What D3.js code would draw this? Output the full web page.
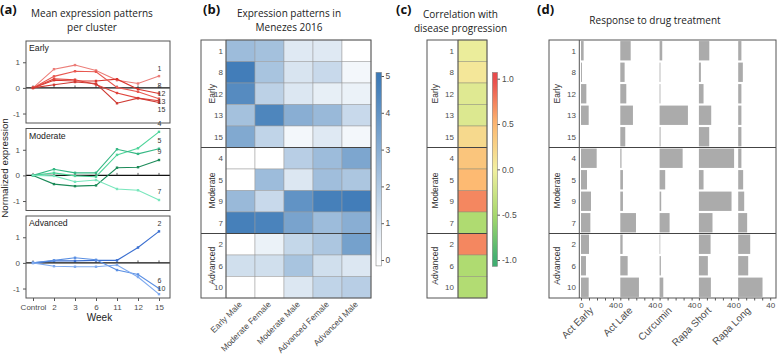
<!DOCTYPE html>
<html><head><meta charset="utf-8">
<script src="https://cdn.jsdelivr.net/npm/d3@7"></script>
<style>body{margin:0;background:#fff} svg{display:block}</style>
</head><body><svg id="chart" width="777" height="355"></svg>
<script>
// ---------------- DATA ----------------
const weeks = ["Control", "2", "3", "6", "11", "12", "15"];
const groups = ["Early", "Moderate", "Advanced"];
const clustersEarly = ["1", "8", "12", "13", "15"];
const clustersModerate = ["4", "5", "9", "7"];
const clustersAdvanced = ["2", "6", "10"];
const profileTicks = [-1, 0, 1];

// mean normalized expression per cluster, per week (panel a)
const profilesEarly = {
  "1":  [0, 0.73, 0.89, 0.68, 0.30, 0.17, 0.46],
  "8":  [0, 0.30, 0.27, 0.27, 0.34, -0.05, -0.22],
  "12": [0, 0.45, 0.65, 0.63, 0.02, -0.15, -0.42],
  "13": [0, 0.35, 0.32, 0.13, -0.20, -0.40, -0.50],
  "15": [0, 0.12, 0.23, 0.17, -0.60, -0.40, -0.57]
};
const profilesModerate = {
  "4": [0, 0.10, -0.02, -0.05, 0.80, 1.06, 1.70],
  "5": [0, 0.24, 0.10, 0.10, 1.02, 0.84, 1.04],
  "9": [0, -0.34, -0.42, -0.39, 0.30, 0.32, 0.60],
  "7": [0, -0.02, -0.25, -0.18, -0.53, -0.58, -0.96]
};
const profilesAdvanced = {
  "2":  [0, 0.08, 0.08, 0.10, 0.10, 0.60, 1.23],
  "6":  [0, 0.10, 0.20, 0.12, -0.28, -0.45, -1.00],
  "10": [0, -0.13, -0.15, -0.15, -0.08, -0.55, -1.22]
};

// panel b: Menezes 2016 expression (rows in cluster order)
const heatColumns = ["Early Male", "Moderate Female", "Moderate Male", "Advanced Female", "Advanced Male"];
const heatValues = [
  [2.5, 2.3, 0.8, 0.8, 0.0],
  [4.8, 2.2, 1.0, 1.4, 0.3],
  [4.3, 1.7, 0.9, 0.6, 0.5],
  [2.3, 4.5, 3.0, 2.6, 1.4],
  [3.2, 1.6, 0.3, 0.8, 0.3],
  [0.0, 0.0, 1.8, 2.5, 3.3],
  [0.0, 2.5, 0.9, 2.4, 2.1],
  [2.6, 1.4, 4.0, 4.7, 4.8],
  [4.7, 4.6, 3.4, 2.5, 3.0],
  [0.0, 0.5, 1.5, 2.1, 3.5],
  [1.2, 1.2, 2.2, 1.2, 0.9],
  [0.0, 0.0, 0.9, 1.6, 1.8]
];
const heatTicks = [0, 1, 2, 3, 4, 5];

// panel c: correlation with disease progression
const corrValues = [-0.05, 0.07, -0.13, -0.15, 0.2, 0.38, 0.48, 0.72, -0.45, 0.72, -0.45, -0.43];
const corrTicks = [-1, -0.5, 0, 0.5, 1];

// panel d: response to drug treatment
const drugs = ["Act Early", "Act Late", "Curcumin", "Rapa Short", "Rapa Long"];
const drugValues = [
  [3.3, 13.0, 3.3, 13.0, 4.0],
  [1.2, 5.4, 1.0, 2.5, 5.8],
  [6.7, 7.5, 1.0, 5.8, 4.0],
  [9.6, 15.8, 35.4, 15.4, 4.0],
  [0.0, 6.2, 1.2, 12.9, 4.0],
  [19.6, 1.5, 28.8, 44.0, 4.0],
  [7.5, 3.3, 7.0, 5.8, 6.2],
  [12.5, 3.3, 2.0, 40.8, 7.5],
  [11.7, 19.6, 12.5, 17.0, 11.2],
  [10.0, 2.9, 0.8, 14.6, 15.0],
  [6.2, 9.2, 1.6, 11.2, 12.5],
  [9.6, 23.3, 4.6, 15.0, 30.4]
];
const drugTicks = [0, 10, 20, 30, 40];
const drugTickLabels = [0, 40];

// ---------------- DRAWING ----------------
const svg = d3.select("#chart");
const FONT = '"Liberation Sans", Arial, sans-serif';
const TFONT = '"Open Sans", "Noto Sans", sans-serif';
const TXT = "#4d4d4d";
const FRAME = "#555";

const clusterLists = { Early: clustersEarly, Moderate: clustersModerate, Advanced: clustersAdvanced };
const profileLists = { Early: profilesEarly, Moderate: profilesModerate, Advanced: profilesAdvanced };
const clusterColors = {
  "1": "#ec7d78", "8": "#d9362e", "12": "#e8574f", "13": "#e0443c", "15": "#cf3a33",
  "4": "#4fd49a", "5": "#35b884", "9": "#1b8a58", "7": "#78e6bc",
  "2": "#3a6fd0", "6": "#5a8fe3", "10": "#7eaaf0"
};

function panelLetter(x, t) {
  svg.append("text").attr("x", x).attr("y", 14).text(t)
    .attr("font-family", TFONT).attr("font-weight", "bold").attr("font-size", 13).attr("fill", "#111");
}
function panelTitle(cx, lines, y0) {
  lines.forEach((l, i) => svg.append("text").attr("x", cx).attr("y", y0 + i * 13.8).text(l)
    .attr("text-anchor", "middle").attr("font-family", TFONT).attr("font-size", 10).attr("fill", "#222"));
}
function styleAxis(s, fs) {
  s.select(".domain").remove();
  s.selectAll("line").attr("stroke", FRAME);
  s.selectAll("text").attr("font-family", FONT).attr("font-size", fs || 8).attr("fill", TXT);
}

// ---- Panel (a) ----
panelLetter(0, "(a)");
panelTitle(92, ["Mean expression patterns", "per cluster"], 17);
const ax = d3.scalePoint().domain(weeks).range([33, 159]);
const aLeft = 26, aRight = 170, aH = 82, aStep = 87.5;
groups.forEach((g, gi) => {
  const top = 41 + gi * aStep, bot = top + aH;
  const y = d3.scaleLinear().domain([-1.37, 1.83]).range([bot, top]);
  const G = svg.append("g");
  G.append("line").attr("x1", aLeft).attr("x2", aRight).attr("y1", y(0)).attr("y2", y(0))
    .attr("stroke", "#111").attr("stroke-width", 1.3);
  G.selectAll(".zt").data(weeks).join("line")
    .attr("x1", d => ax(d)).attr("x2", d => ax(d)).attr("y1", y(0) - 2.5).attr("y2", y(0))
    .attr("stroke", "#333").attr("stroke-width", 0.8);
  const profs = profileLists[g];
  const ids = clusterLists[g];
  const line = d3.line().x((d, i) => ax(weeks[i])).y(d => y(d));
  ids.forEach(id => {
    G.append("path").attr("d", line(profs[id])).attr("fill", "none")
      .attr("stroke", clusterColors[id]).attr("stroke-width", 1.1);
    G.selectAll(null).data(profs[id]).join("rect")
      .attr("x", (d, i) => ax(weeks[i]) - 1.2).attr("y", d => y(d) - 1.2)
      .attr("width", 2.4).attr("height", 2.4).attr("fill", clusterColors[id]);
  });
  // end labels with simple repel
  const labs = ids.map(id => ({ id, y: y(profs[id][weeks.length - 1]) - 8 })).sort((a, b) => a.y - b.y);
  for (let i = 1; i < labs.length; i++) labs[i].y = Math.max(labs[i].y, labs[i - 1].y + 8);
  labs.forEach(l => G.append("text").attr("x", ax(weeks[weeks.length - 1]) - 1.5).attr("y", l.y)
    .attr("dy", "0.35em").text(l.id).attr("font-family", FONT).attr("font-size", 7).attr("fill", "#333"));
  G.append("rect").attr("x", aLeft).attr("y", top).attr("width", aRight - aLeft).attr("height", aH)
    .attr("fill", "none").attr("stroke", FRAME).attr("stroke-width", 1);
  G.append("text").attr("x", aLeft + 3).attr("y", top + 10).text(g)
    .attr("font-family", FONT).attr("font-size", 8.7).attr("fill", "#222");
  G.append("g").attr("transform", `translate(${aLeft},0)`)
    .call(d3.axisLeft(y).tickValues(profileTicks).tickSize(3).tickPadding(3).tickFormat(d => String(d)))
    .call(s => styleAxis(s, 8));
  if (gi === groups.length - 1) {
    G.append("g").attr("transform", `translate(0,${bot})`)
      .call(d3.axisBottom(ax).tickSize(3).tickPadding(3)).call(s => styleAxis(s, 8));
  }
});
svg.append("text").attr("x", 99.5).attr("y", 321).text("Week").attr("text-anchor", "middle")
  .attr("font-family", FONT).attr("font-size", 10).attr("fill", "#222");
svg.append("text").attr("transform", "translate(8,168) rotate(-90)").text("Normalized expression")
  .attr("text-anchor", "middle").attr("font-family", FONT).attr("font-size", 9.8).attr("fill", "#222");

// shared row scale for b, c, d
const rowList = groups.flatMap(g => clusterLists[g].map(c => ({ g, c })));
const yRow = d3.scaleBand().domain(rowList.map(r => r.c)).range([40, 298]);
const rowH = yRow.bandwidth();
function rowStrip(left, innerX, right, numRight, groupX) {
  const G = svg.append("g");
  G.selectAll(null).data(rowList).join("text")
    .attr("x", numRight).attr("y", d => yRow(d.c) + rowH / 2).attr("dy", "0.35em")
    .attr("text-anchor", "end").text(d => d.c)
    .attr("font-family", FONT).attr("font-size", 8).attr("fill", TXT);
  groups.forEach(g => {
    const ids = clusterLists[g];
    const y0 = yRow(ids[0]), y1 = yRow(ids[ids.length - 1]) + rowH;
    G.append("text").attr("transform", `translate(${groupX},${(y0 + y1) / 2}) rotate(-90)`)
      .attr("dy", "0.35em").attr("text-anchor", "middle").text(g)
      .attr("font-family", FONT).attr("font-size", 8.5).attr("fill", "#333");
  });
  // separators
  groups.slice(1).forEach(g => {
    const yy = yRow(clusterLists[g][0]);
    G.append("line").attr("x1", left).attr("x2", right).attr("y1", yy).attr("y2", yy)
      .attr("stroke", "#444").attr("stroke-width", 1.2);
  });
  G.append("rect").attr("x", left).attr("y", 40).attr("width", right - left).attr("height", 258)
    .attr("fill", "none").attr("stroke", FRAME);
  G.append("line").attr("x1", innerX).attr("x2", innerX).attr("y1", 40).attr("y2", 298)
    .attr("stroke", FRAME);
}

// ---- Panel (b) ----
panelLetter(203, "(b)");
panelTitle(289, ["Expression patterns in", "Menezes 2016"], 17);
const xHeat = d3.scaleBand().domain(heatColumns).range([226, 371]);
const heatColor = d3.scaleLinear().domain([0, 5]).range(["#ffffff", "#3a78b6"]).clamp(true);
const cellsB = rowList.flatMap((r, ri) => heatColumns.map((c, ci) => ({ r: r.c, c, v: heatValues[ri][ci] })));
svg.append("g").selectAll("rect").data(cellsB).join("rect")
  .attr("x", d => xHeat(d.c)).attr("y", d => yRow(d.r))
  .attr("width", xHeat.bandwidth()).attr("height", rowH)
  .attr("fill", d => heatColor(d.v)).attr("stroke", "#9a9a9a").attr("stroke-width", 0.5);
rowStrip(201, 226, 371, 223, 212);
svg.append("g").selectAll("text").data(heatColumns).join("text")
  .attr("transform", d => `translate(${xHeat(d) + xHeat.bandwidth() / 2 + 2},305) rotate(-45)`)
  .attr("text-anchor", "end").text(d => d)
  .attr("font-family", FONT).attr("font-size", 8.5).attr("fill", TXT);
// colorbar b
const defs = svg.append("defs");
const cbB = d3.scaleLinear().domain([0, 5]).range([260, 76]);
const gradB = defs.append("linearGradient").attr("id", "gB").attr("x1", 0).attr("x2", 0).attr("y1", 1).attr("y2", 0);
d3.range(0, 1.01, 0.1).forEach(t => {
  const v = -0.16 + t * (5.1 + 0.16);
  gradB.append("stop").attr("offset", t).attr("stop-color", heatColor(v));
});
svg.append("rect").attr("x", 376).attr("y", cbB(5.1)).attr("width", 5.5).attr("height", cbB(-0.16) - cbB(5.1))
  .attr("fill", "url(#gB)").attr("stroke", "#888").attr("stroke-width", 0.6);
svg.append("g").attr("transform", "translate(381.5,0)")
  .call(d3.axisRight(cbB).tickValues(heatTicks).tickSize(2.5).tickPadding(1.5).tickFormat(d => String(d)))
  .call(s => styleAxis(s, 8.5));

// ---- Panel (c) ----
panelLetter(396, "(c)");
panelTitle(460.5, ["Correlation with", "disease progression"], 18);
const corrColor = d3.scaleLinear().domain([-1, -0.5, 0, 0.5, 1])
  .range(["#3fae72", "#a8d96c", "#f2efa0", "#fdb870", "#e8494b"]).clamp(true);
svg.append("g").selectAll("rect").data(rowList).join("rect")
  .attr("x", 458).attr("y", d => yRow(d.c)).attr("width", 29).attr("height", rowH)
  .attr("fill", (d, i) => corrColor(corrValues[i])).attr("stroke", "#8f8f7a").attr("stroke-width", 0.5);
rowStrip(427, 458, 487, 454, 435);
const cbC = d3.scaleLinear().domain([-1, 1]).range([260, 78.7]);
const gradC = defs.append("linearGradient").attr("id", "gC").attr("x1", 0).attr("x2", 0).attr("y1", 1).attr("y2", 0);
d3.range(0, 1.01, 0.05).forEach(t => {
  const v = -1.07 + t * 2.14;
  gradC.append("stop").attr("offset", t).attr("stop-color", corrColor(v));
});
svg.append("rect").attr("x", 492.3).attr("y", cbC(1.07)).attr("width", 5.2).attr("height", cbC(-1.07) - cbC(1.07))
  .attr("fill", "url(#gC)").attr("stroke", "#888").attr("stroke-width", 0.6);
svg.append("g").attr("transform", "translate(497.5,0)")
  .call(d3.axisRight(cbC).tickValues(corrTicks).tickSize(2.5).tickPadding(2).tickFormat(d => d.toFixed(1)))
  .call(s => styleAxis(s, 8.5));

// ---- Panel (d) ----
panelLetter(537, "(d)");
panelTitle(655, ["Response to drug treatment"], 24);
const facetW = 39.3, facet0 = 579.3;
drugs.forEach((drug, di) => {
  const x0 = facet0 + di * facetW;
  const xs = d3.scaleLinear().domain([0, 40]).range([x0 + 1.7, x0 + 33.7]);
  svg.append("g").selectAll("rect").data(rowList).join("rect")
    .attr("x", xs(0)).attr("y", d => yRow(d.c) + rowH * 0.05)
    .attr("width", (d, i) => xs(drugValues[i][di]) - xs(0)).attr("height", rowH * 0.9)
    .attr("fill", "#ababab");
  svg.append("g").attr("transform", "translate(0,298)")
    .call(d3.axisBottom(xs).tickValues(drugTicks).tickSize(2.5).tickPadding(2)
      .tickFormat(d => drugTickLabels.includes(d) ? String(d) : ""))
    .call(s => styleAxis(s, 8));
  svg.append("text").attr("transform", `translate(${x0 + facetW / 2 - 5},311) rotate(-45)`)
    .attr("text-anchor", "end").text(drug)
    .attr("font-family", FONT).attr("font-size", 10).attr("fill", TXT);
});
rowStrip(549, 579.3, 776, 576, 557);
</script></body></html>
